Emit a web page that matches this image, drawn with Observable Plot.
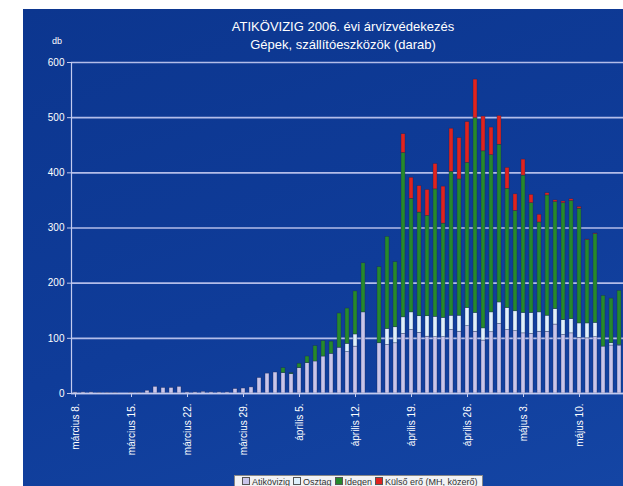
<!DOCTYPE html>
<html><head><meta charset="utf-8">
<script src="https://cdn.jsdelivr.net/npm/d3@7"></script>
<script src="https://cdn.jsdelivr.net/npm/@observablehq/plot@0.6"></script>
<style>
body{margin:0;background:#fff;}
#wrap{position:relative;width:623px;height:486px;overflow:hidden;background:#fff;font-family:"Liberation Sans",Arial,sans-serif;}
#panel{position:absolute;left:23px;top:9px;width:600px;height:477px;background:linear-gradient(160deg,#0c368f 0%,#0f3c99 55%,#1445a4 100%);}
.title{position:absolute;left:23px;width:640px;text-align:center;color:#fff;font-size:13px;line-height:16px;}
#db{position:absolute;left:52px;top:36px;color:#fff;font-size:9px;}
#chart{position:absolute;left:0;top:0;}
#legend{position:absolute;left:234px;top:475px;background:#f2f2f4;border:1px solid #888;padding:1px 4px;font-size:9px;color:#333;white-space:nowrap;line-height:11px;}
#legend span.sw{display:inline-block;width:6px;height:6px;border:1px solid #555;margin:0 2px 0 3px;vertical-align:0px;}
</style></head>
<body><div id="wrap">
<div id="panel"></div>
<div class="title" style="top:19px">ATIKÖVIZIG 2006. évi árvízvédekezés</div>
<div class="title" style="top:37px">Gépek, szállítóeszközök (darab)</div>
<div id="db">db</div>
<div id="chart"></div>
<div id="legend"></div>
</div>
<script>
// Days from 2006-03-08 to 2006-05-15
const dates = d3.timeDay.range(new Date(2006,2,8), new Date(2006,4,16)).map(d3.timeFormat("%Y-%m-%d"));
const series = ["Atikövizig","Osztag","Idegen","Külső erő (MH, közerő)"];
const colors = ["#c9c5ea","#dff0fb","#26892c","#e0231f"];
const atikovizig = [2,2,2,1,1,1,0,1,1,5,12,10,10,12,2,2,3,2,2,2,8,9,11,28,
  36,38,37,35,46,55,58,67,72,83,75,85,147,0,91,88,91,108,115,110,103,102,102,115,112,122,112,96,111,126,
  115,113,109,108,112,112,125,106,109,101,100,102,85,87,86];
const osztag = [0,0,0,0,0,0,0,0,0,0,0,0,0,0,0,0,0,0,0,0,0,0,0,0,
  0,0,0,0,0,0,0,0,0,0,15,22,0,0,0,29,29,30,32,30,37,37,35,26,29,33,34,22,36,39,
  40,36,37,38,35,29,28,27,26,26,27,26,0,4,2];
const idegen = [0,0,0,0,0,0,0,0,0,0,0,0,0,0,0,0,0,0,0,0,0,0,0,0,
  0,0,9,2,8,12,28,28,22,62,64,78,89,0,138,167,118,298,206,188,182,231,171,261,247,263,353,321,285,286,
  216,182,249,199,163,218,194,212,214,208,151,161,92,81,98];
const kulso = [0,0,0,0,0,0,0,0,0,0,0,0,0,0,0,0,0,0,0,0,0,0,0,0,
  0,0,0,0,0,0,0,0,0,0,0,0,0,0,0,0,0,34,38,48,47,46,67,78,75,74,70,63,50,52,
  38,30,29,15,14,4,3,3,3,3,1,1,0,0,0];
const yTicks = [0,100,200,300,400,500,600];
const weekLabels = ["március 8.","március 15.","március 22.","március 29.","április 5.","április 12.","április 19.","április 26.","május 3.","május 10."];
const weekDates = dates.filter((d,i)=>i%7===0).slice(0, weekLabels.length);

const cols = [atikovizig, osztag, idegen, kulso];
const long = [];
dates.forEach((d,i)=>cols.forEach((c,j)=>{ if (c[i] > 0) long.push({date:d, series:series[j], value:c[i]}); }));
const labelOf = new Map(weekDates.map((d,i)=>[d, weekLabels[i]]));

const chart = Plot.plot({
  width:623, height:486,
  marginTop:62, marginBottom:93, marginLeft:71, marginRight:0,
  style:{background:"transparent", color:"#fff", fontFamily:"Liberation Sans, Arial, sans-serif", fontSize:"10px"},
  x:{type:"band", domain:dates, paddingInner:0.5, paddingOuter:0.25, label:null},
  y:{domain:[0,600], label:null},
  color:{domain:series, range:colors},
  marks:[
    Plot.gridY(yTicks, {stroke:"#b3bde9", strokeOpacity:1, strokeWidth:1.6}),
    Plot.barY(long, {x:"date", y:"value", fill:"series", order:series, stroke:"#1b2550", strokeWidth:0.5, strokeOpacity:0.7}),
    Plot.frame({anchor:"left", stroke:"#c3cbef", strokeWidth:1.2}),
    Plot.ruleY([0], {stroke:"#c3cbef", strokeWidth:1.4}),
    Plot.axisY({ticks:yTicks, tickSize:4, tickPadding:3, stroke:"#c3cbef", fill:"#fff", fontSize:10}),
    Plot.axisX({ticks:weekDates, tickFormat:d=>labelOf.get(d), tickRotate:-90, tickSize:4, tickPadding:6, stroke:"#c3cbef", fill:"#fff", fontSize:10})
  ]
});
document.getElementById("chart").appendChild(chart);

const lg = document.getElementById("legend");
series.forEach((s,i)=>{
  const sw = document.createElement("span"); sw.className="sw"; sw.style.background=colors[i];
  lg.appendChild(sw);
  lg.appendChild(document.createTextNode(s));
});
</script>
</body></html>
